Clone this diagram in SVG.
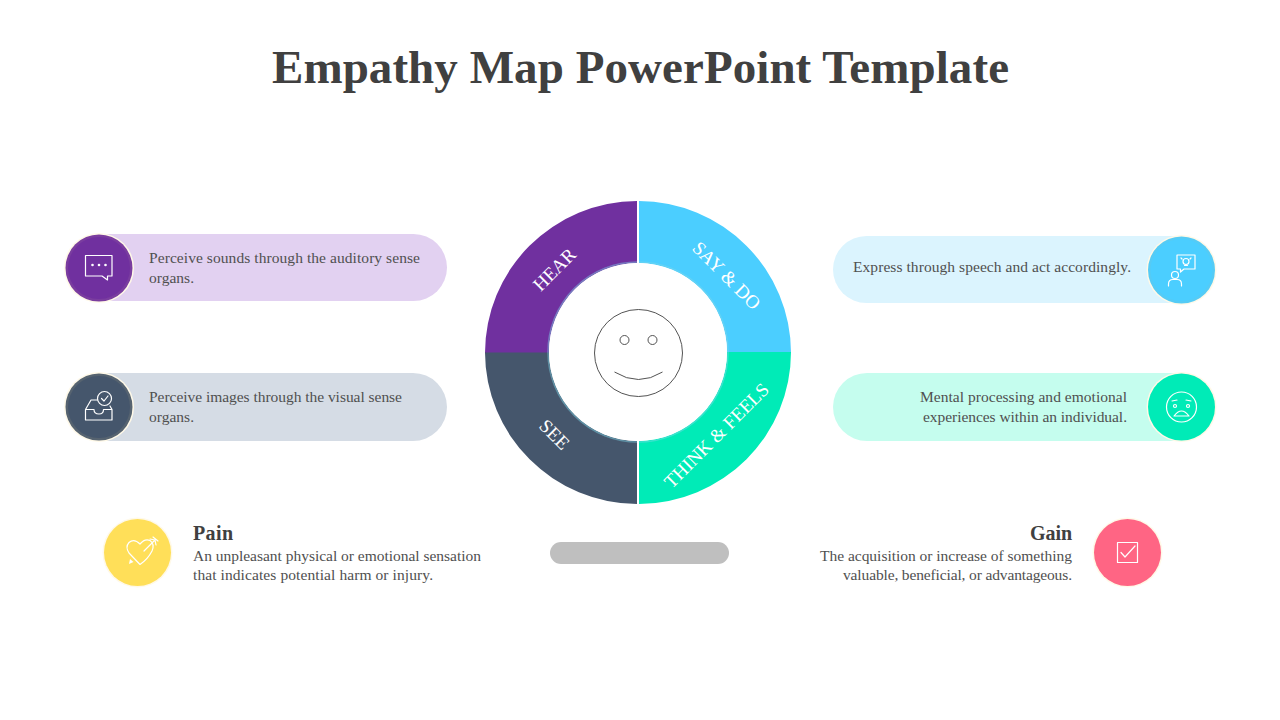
<svg xmlns="http://www.w3.org/2000/svg" width="1280" height="720" viewBox="0 0 1280 720">
<style>
text{font-family:"Liberation Serif","Times New Roman",serif}
.title{font-size:47px;font-weight:700;fill:#404040}
.body{font-size:15.500px;fill:#505050}
.head{font-size:20px;font-weight:700;fill:#404040}
.seg{font-size:19px;fill:#fff;text-anchor:middle}
.halo{fill:#FFF9E8}
.ico{fill:none;stroke:#fff;stroke-width:1.200;stroke-linecap:round;stroke-linejoin:round}
.ico2{fill:none;stroke:#404040;stroke-width:.9}
</style>
<rect width="1280" height="720" fill="#fff"/>
<text class="title" x="272" y="83" textLength="737" lengthAdjust="spacing">Empathy Map PowerPoint Template</text>

<g id="wheel">
<path d="M637 201V263A89 89 0 0 0 549 353H485A153 152 0 0 1 637 201Z" fill="#70309F"/>
<path d="M639 201A153 152 0 0 1 791 352.500H727A89 89 0 0 0 639 263Z" fill="#4BCEFF"/>
<path d="M485 352.500H549A89 89 0 0 0 637 441V504A153 152 0 0 1 485 352.500Z" fill="#45566C"/>
<path d="M791 352A153 152 0 0 1 639 504V441A89 89 0 0 0 727 352Z" fill="#00EBB7"/>
<circle cx="638" cy="352" r="90" fill="none" stroke="#7FD8E8" stroke-width="1.500" stroke-opacity=".45"/>
<circle cx="638" cy="352" r="89" fill="#fff"/>
<rect x="637" y="201" width="2" height="62" fill="#fff"/>
<rect x="637" y="441" width="2" height="63" fill="#fff"/>
<text class="seg" transform="translate(559 274) rotate(-45)">HEAR</text>
<text class="seg" transform="translate(722 280) rotate(45)">SAY &amp; DO</text>
<text class="seg" transform="translate(550 439) rotate(45)">SEE</text>
<text class="seg" transform="translate(721 440) rotate(-45)">THINK &amp; FEELS</text>
</g>

<g id="face">
<ellipse cx="638.500" cy="353" rx="44" ry="43.500" class="ico2"/>
<circle cx="624.500" cy="340" r="4.500" class="ico2"/>
<circle cx="652.500" cy="340" r="4.500" class="ico2"/>
<path d="M614.500 372Q638.500 387 662.500 372" class="ico2"/>
</g>

<g id="node-hear">
<rect x="65" y="234" width="382" height="67" rx="33.500" fill="#E2D1F1"/>
<circle cx="99" cy="268" r="35" class="halo"/>
<circle cx="99" cy="268" r="33.500" fill="#7A3D9F"/>
<circle cx="99" cy="268" r="31" fill="#70309F"/>
<path class="ico" d="M85.500 255.500H112V276H107.500V280L102 276H85.500Z"/>
<circle cx="92.500" cy="265" r="1.300" fill="#fff"/><circle cx="99" cy="265" r="1.300" fill="#fff"/><circle cx="105.500" cy="265" r="1.300" fill="#fff"/>
<text class="body" x="149" y="263" textLength="271">Perceive sounds through the auditory sense</text>
<text class="body" x="149" y="283" textLength="45">organs.</text>
</g>

<g id="node-see">
<rect x="65" y="373" width="382" height="68" rx="34" fill="#D5DCE5"/>
<circle cx="99" cy="407" r="35" class="halo"/>
<circle cx="99" cy="407" r="33.500" fill="#566370"/>
<circle cx="99" cy="407" r="31" fill="#45566C"/>
<path class="ico" d="M85.500 409.500V420H112V409.500M85.500 409.500L91 400H97M85.500 409.500H94Q94 414 99 414Q103.500 414 103.500 409.500H112L110 406"/>
<circle class="ico" cx="104.500" cy="398.500" r="7"/>
<path class="ico" d="M101.500 398.500L104 401L108 396"/>
<text class="body" x="149" y="402" textLength="253">Perceive images through the visual sense</text>
<text class="body" x="149" y="422" textLength="45">organs.</text>
</g>

<g id="node-say">
<rect x="833" y="236" width="382" height="67" rx="33.500" fill="#DBF4FE"/>
<circle cx="1181.500" cy="270" r="35" class="halo"/>
<circle cx="1181.500" cy="270" r="33.500" fill="#55CBF5"/>
<circle cx="1181.500" cy="270" r="31" fill="#4BCEFF"/>
<path class="ico" d="M1177 255H1195V269H1184L1180.500 272V269H1177Z"/>
<circle class="ico" cx="1186" cy="261.500" r="3"/>
<path class="ico" d="M1184.500 265.500H1187.500M1181 258L1182 259M1191 258L1190 259"/>
<circle class="ico" cx="1175" cy="275" r="3.500"/>
<path class="ico" d="M1168.500 286V284Q1168.500 279.500 1173 279.500H1177Q1181.500 279.500 1181.500 284V286"/>
<text class="body" x="853" y="272" textLength="278">Express through speech and act accordingly.</text>
</g>

<g id="node-think">
<rect x="833" y="373" width="382" height="68" rx="34" fill="#C5FDEE"/>
<circle cx="1181.500" cy="407" r="35" class="halo"/>
<circle cx="1181.500" cy="407" r="33.500" fill="#00EBB7"/>
<circle class="ico" cx="1181.500" cy="407" r="15"/>
<circle class="ico" cx="1175" cy="406" r="1.500"/><circle class="ico" cx="1188" cy="406" r="1.500"/>
<path class="ico" d="M1172 401L1177 400M1191 401L1186 400M1174 416Q1181.500 406 1189 416Z"/>
<text class="body" x="920" y="402" textLength="207">Mental processing and emotional</text>
<text class="body" x="923" y="422" textLength="204">experiences within an individual.</text>
</g>

<g id="node-pain">
<circle cx="137.500" cy="552.500" r="35" class="halo"/>
<circle cx="137.500" cy="552.500" r="33.500" fill="#FFDF59"/>
<path class="ico" d="M140 564.500L129 553Q125 547 129 542.500Q134 538 140 544Q145 538 150 540.500Q155 544 152 551Q148 559 140 564.500Z"/>
<path class="ico" d="M144 551L155 540M150 539L155 540L156 545M153 537L158 541"/>
<path d="M130 559L133.500 562L129 564Z" fill="#fff"/>
<text class="head" x="193" y="540" textLength="40">Pain</text>
<text class="body" x="193" y="561" textLength="288">An unpleasant physical or emotional sensation</text>
<text class="body" x="193" y="580" textLength="240">that indicates potential harm or injury.</text>
</g>

<g id="node-gain">
<circle cx="1127.500" cy="552.500" r="35" class="halo"/>
<circle cx="1127.500" cy="552.500" r="33.500" fill="#FF6584"/>
<rect class="ico" x="1117.500" y="542.500" width="20" height="20"/>
<path class="ico" d="M1121 552.500L1125 557L1135 546"/>
<text class="head" x="1030" y="540" textLength="42">Gain</text>
<text class="body" x="820" y="561" textLength="252">The acquisition or increase of something</text>
<text class="body" x="843" y="580" textLength="229">valuable, beneficial, or advantageous.</text>
</g>

<g id="connectors"></g>
<rect id="shadow-bar" x="550" y="542" width="179" height="22" rx="11" fill="#BFBFBF"/>
</svg>
